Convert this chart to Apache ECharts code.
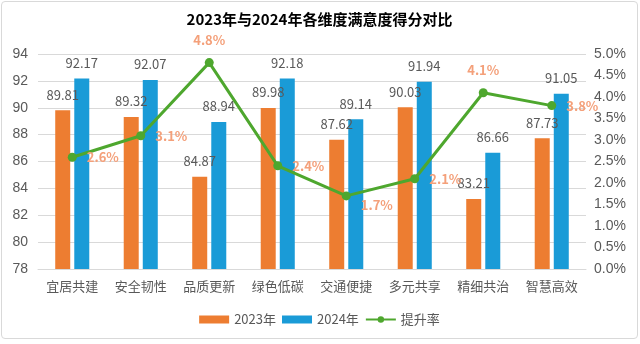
<!DOCTYPE html>
<html><head><meta charset="utf-8">
<script src="https://cdn.jsdelivr.net/npm/echarts@6/dist/echarts.min.js"></script>
<style>
html,body{margin:0;padding:0;background:#fff;}
#c{position:absolute;left:1px;top:1px;width:637px;height:338px;border:1px solid #d9d9d9;border-radius:4px;box-sizing:border-box;}
</style>
</head><body>
<div id="c"></div>
<script>
var categories = ['宜居共建','安全韧性','品质更新','绿色低碳','交通便捷','多元共享','精细共治','智慧高效'];
var scores2023 = [89.81, 89.32, 84.87, 89.98, 87.62, 90.03, 83.21, 87.73];
var scores2024 = [92.17, 92.07, 88.94, 92.18, 89.14, 91.94, 86.66, 91.05];
var growthRate = [2.6, 3.1, 4.8, 2.4, 1.7, 2.1, 4.1, 3.8];
var ratePos = ['right','right','top','right','right','right','top','right'];
var rateShift = [[0,0],[0,0],[0,-2],[0,0],[0,9],[0,0],[0,-2],[0,0]];

var font = '"Noto Sans CJK SC", "Liberation Sans", sans-serif';
var chart = echarts.init(document.getElementById('c'), null, {renderer:'canvas'});
var barLabel = {show:true, position:'top', distance:9, color:'#595959', fontSize:13, fontFamily:font};
chart.setOption({
  textStyle:{fontFamily:font},
  title:{text:'2023年与2024年各维度满意度得分对比', left:'center', top:5,
    textStyle:{fontSize:15, fontWeight:'bold', color:'#000', fontFamily:font}},
  grid:{left:36, right:51, top:52, bottom:69},
  legend:{bottom:7, left:'center', itemWidth:30, itemHeight:8, itemGap:6,
    textStyle:{color:'#595959', fontSize:13, fontFamily:font},
    data:[{name:'2023年', icon:'rect'},{name:'2024年', icon:'rect'},{name:'提升率'}]},
  xAxis:{type:'category', data:categories,
    axisLine:{lineStyle:{color:'#d9d9d9'}}, axisTick:{show:false},
    axisLabel:{color:'#595959', fontSize:13, margin:11, fontFamily:font}},
  yAxis:[
    {type:'value', min:78, max:94, interval:2,
     axisLabel:{color:'#595959', fontSize:14, fontFamily:'"Liberation Sans", sans-serif', margin:10},
     splitLine:{lineStyle:{color:'#d9d9d9'}}, axisLine:{show:false}, axisTick:{show:false}},
    {type:'value', min:0, max:5, interval:0.5,
     axisLabel:{color:'#595959', fontSize:14, fontFamily:'"Liberation Sans", sans-serif', margin:8,
       formatter:function(v){return v.toFixed(1)+'%';}},
     splitLine:{show:false}, axisLine:{show:false}, axisTick:{show:false}}
  ],
  series:[
    {name:'2023年', type:'bar', data:scores2023, barWidth:15, barGap:'27%',
     itemStyle:{color:'#ED7D31'}, label:barLabel},
    {name:'2024年', type:'bar', data:scores2024, barWidth:15,
     itemStyle:{color:'#1A9BD7'}, label:barLabel},
    {name:'提升率', type:'line', yAxisIndex:1, z:5,
     data:growthRate.map(function(v,i){return {value:v, label:{position:ratePos[i], offset:rateShift[i]}};}),
     symbol:'circle', symbolSize:9,
     lineStyle:{color:'#4EA72E', width:3}, itemStyle:{color:'#4EA72E'},
     label:{show:true, color:'#F4A07A', fontSize:13, fontWeight:'bold', distance:10,
       formatter:function(p){return p.value.toFixed(1)+'%';}}}
  ]
});
</script>
</body></html>
